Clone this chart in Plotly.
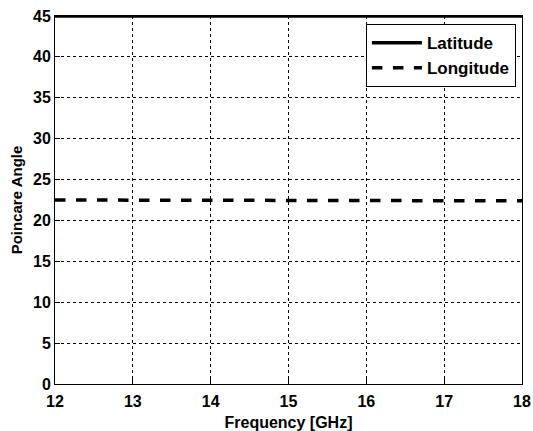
import plotly.graph_objects as go

freq = [12, 13, 14, 15, 16, 17, 18]
latitude = [45, 45, 45, 45, 45, 45, 45]
longitude = [22.5, 22.5, 22.5, 22.45, 22.45, 22.4, 22.4]
x_ticks = [12, 13, 14, 15, 16, 17, 18]
y_ticks = [0, 5, 10, 15, 20, 25, 30, 35, 40, 45]

fig = go.Figure()
fig.add_trace(go.Scatter(x=freq, y=latitude, mode="lines", name="<b>Latitude</b>",
                         line=dict(color="black", width=3.5, dash="solid"), cliponaxis=False))
fig.add_trace(go.Scatter(x=freq, y=longitude, mode="lines", name="<b>Longitude</b>",
                         line=dict(color="black", width=3.5, dash="dash")))

font = dict(family="Liberation Sans, Arial, sans-serif", color="black")
fig.update_layout(
    width=533, height=431,
    margin=dict(l=55, r=11, t=16, b=47),
    paper_bgcolor="white", plot_bgcolor="white",
    font=dict(size=14, **font),
    showlegend=True,
    legend=dict(x=0.987, y=0.978, xanchor="right", yanchor="top",
                bgcolor="white", bordercolor="black", borderwidth=1,
                font=dict(size=17, family="Liberation Sans, Arial, sans-serif", color="black"),
                itemwidth=50, tracegroupgap=0),
)
fig.update_xaxes(range=[12, 18], tickvals=x_ticks, ticktext=[f"<b>{v}</b>" for v in x_ticks],
                 showgrid=True, gridcolor="black", griddash="dot", gridwidth=1,
                 showline=True, linecolor="black", linewidth=1, mirror=True,
                 ticks="inside", ticklen=5, tickcolor="black", zeroline=False,
                 automargin=False, ticklabelstandoff=3,
                 tickfont=dict(size=16, **font),
                 title=dict(text="<b>Frequency [GHz]</b>", font=dict(size=16, **font), standoff=8))
fig.update_yaxes(range=[0, 45], tickvals=y_ticks, ticktext=[f"<b>{v}</b>" for v in y_ticks],
                 showgrid=True, gridcolor="black", griddash="dot", gridwidth=1,
                 showline=True, linecolor="black", linewidth=1, mirror=True,
                 ticks="inside", ticklen=5, tickcolor="black", zeroline=False,
                 automargin=False,
                 tickfont=dict(size=16, **font),
                 title=dict(text="<b>Poincare Angle</b>", font=dict(size=15, **font), standoff=6))

fig.write_html("out.html")
